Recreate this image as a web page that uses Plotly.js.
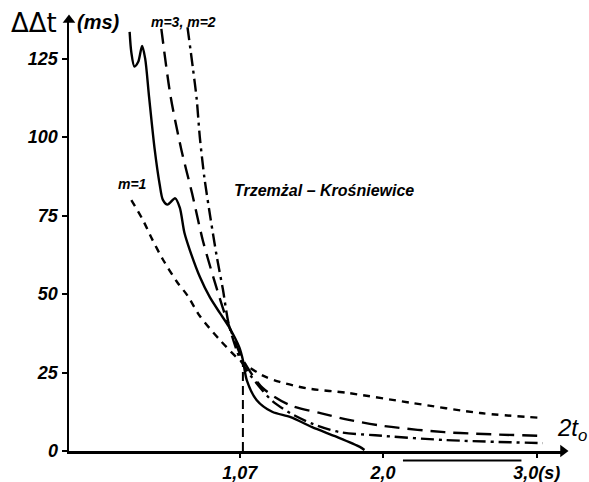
<!DOCTYPE html>
<html>
<head>
<meta charset="utf-8">
<script src="https://cdn.plot.ly/plotly-3.0.1.min.js"></script>
<style>html,body{margin:0;padding:0;background:#fff;}#chart{width:589px;height:482px;}</style>
</head>
<body>
<div id="chart"></div>
<script>
// Measured curve (solid)
const measX = [0.354,0.365,0.385,0.41,0.435,0.455,0.48,0.517,0.549,0.57,0.60,0.65,0.68,0.71,0.745,0.81,0.875,0.94,1.0,1.067,1.09,1.115,1.18,1.28,1.4,1.54,1.7,1.85,1.88];
const measY = [133.5,127,122.5,124,129,125,113,96,85,80,78.5,80.5,77.5,69.5,64,55.5,49,44,39.5,33,29,22.6,16.2,12.5,10.8,7.6,4.5,1.3,0.3];
// m=1 (short dashes)
const m1X = [0.365,0.44,0.5,0.57,0.66,0.73,0.81,0.94,1.08,1.22,1.33,1.5,1.77,2.19,2.63,3.04];
const m1Y = [79.9,73.6,67.5,61,54,49.5,43,35.4,28.5,24,22,20,18.5,15.3,12.1,10.5];
// m=3 (long dashes)
const m3X = [0.56,0.62,0.69,0.76,0.83,0.9,0.97,1.03,1.09,1.22,1.4,1.6,1.77,2.0,2.4,3.04];
const m3Y = [134.5,113,96,82,67,55,44,36,29,20,14.5,12,10,8,6,4.8];
// m=2 (dash-dot)
const m2X = [0.73,0.765,0.79,0.81,0.84,0.88,0.92,0.96,1.0,1.08,1.18,1.28,1.4,1.55,1.72,1.95,2.4,3.04];
const m2Y = [135,122,112,100,87,74,62,51.5,40,28.5,21.5,16,12,8.5,6,5,3.5,2.5];
// marker line at 1.07 s
const markX = [1.09,1.09];
const markY = [0,28];
// ticks
const yTicks = [0,25,50,75,100,125];
const yTickText = ['0','25','50','75','100','125'];
const xTicks = [1.07,2.0,3.0];
const xTickText = ['1,07','2,0','3,0(s)'];
const xRange = [-0.04,3.17];
const yRange = [0,137.3];

const fontFam = '"Liberation Sans Narrow","Liberation Sans","DejaVu Sans",sans-serif';
const baseLine = {color:'#000', width:2.4, shape:'spline', smoothing:0.8};

const traces = [
  {x:measX, y:measY, mode:'lines', line:Object.assign({}, baseLine, {dash:'solid'}), hoverinfo:'skip'},
  {x:m1X, y:m1Y, mode:'lines', line:Object.assign({}, baseLine, {dash:'7px,6px'}), hoverinfo:'skip'},
  {x:m3X, y:m3Y, mode:'lines', line:Object.assign({}, baseLine, {dash:'15px,8px'}), hoverinfo:'skip'},
  {x:m2X, y:m2Y, mode:'lines', line:Object.assign({}, baseLine, {dash:'13px,5px,3px,5px'}), hoverinfo:'skip'},
  {x:markX, y:markY, mode:'lines', line:{color:'#000', width:2, dash:'9px,5px'}, hoverinfo:'skip'},
  // axis arrowheads
  {x:[xRange[0]], y:[yRange[1]], mode:'markers', cliponaxis:false, marker:{symbol:'triangle-up', size:11, color:'#000'}, hoverinfo:'skip'},
  {x:[xRange[1]], y:[yRange[0]], mode:'markers', cliponaxis:false, marker:{symbol:'triangle-right', size:11, color:'#000'}, hoverinfo:'skip'}
];

const tickFont = {family:fontFam, size:18, color:'#000', style:'italic', weight:'bold'};

const layout = {
  width:589, height:482,
  margin:{l:69, r:26, t:20, b:31, pad:0},
  paper_bgcolor:'#fff', plot_bgcolor:'#fff',
  showlegend:false,
  xaxis:{range:xRange, showgrid:false, zeroline:false, showline:true, linecolor:'#000', linewidth:2.5,
         tickvals:xTicks, ticktext:xTickText, ticks:'outside', ticklen:4, tickwidth:1.5, tickcolor:'#000',
         tickfont:tickFont, fixedrange:true},
  yaxis:{range:yRange, showgrid:false, zeroline:false, showline:true, linecolor:'#000', linewidth:2.5,
         tickvals:yTicks, ticktext:yTickText, ticks:'outside', ticklen:5, tickwidth:2, tickcolor:'#000',
         tickfont:tickFont, fixedrange:true},
  annotations:[
    {xref:'paper', yref:'paper', x:-0.121, y:0.993, xanchor:'left', yanchor:'middle', showarrow:false,
     text:'ΔΔt', font:{family:'"DejaVu Sans",sans-serif', size:26, color:'#000'}},
    {xref:'paper', yref:'paper', x:0.012, y:0.995, xanchor:'left', yanchor:'middle', showarrow:false,
     text:'(ms)', font:{family:fontFam, size:20, color:'#000', style:'italic', weight:'bold'}},
    {x:1.62, y:83, xref:'x', yref:'y', showarrow:false, text:'Trzemżal – Krośniewice',
     font:{family:fontFam, size:16, color:'#000', style:'italic', weight:'bold'}},
    {x:0.37, y:82, xref:'x', yref:'y', showarrow:false, text:'m=1', yanchor:'bottom',
     font:{family:fontFam, size:14, color:'#000', style:'italic', weight:'bold'}},
    {xref:'paper', yref:'paper', x:0.232, y:0.995, xanchor:'center', yanchor:'middle', showarrow:false, text:'m=3, m=2',
     font:{family:fontFam, size:14, color:'#000', style:'italic', weight:'bold'}},
    {xref:'paper', yref:'paper', x:0.984, y:0.05, xanchor:'left', yanchor:'middle', showarrow:false,
     text:'2t<sub>o</sub>', font:{family:fontFam, size:24, color:'#000', style:'italic'}}
  ],
  shapes:[
    {type:'line', xref:'x', yref:'paper', x0:2.13, x1:2.9, y0:-0.022, y1:-0.022, line:{color:'#000', width:2}}
  ]
};

Plotly.newPlot('chart', traces, layout, {displayModeBar:false, staticPlot:true});
</script>
</body>
</html>
